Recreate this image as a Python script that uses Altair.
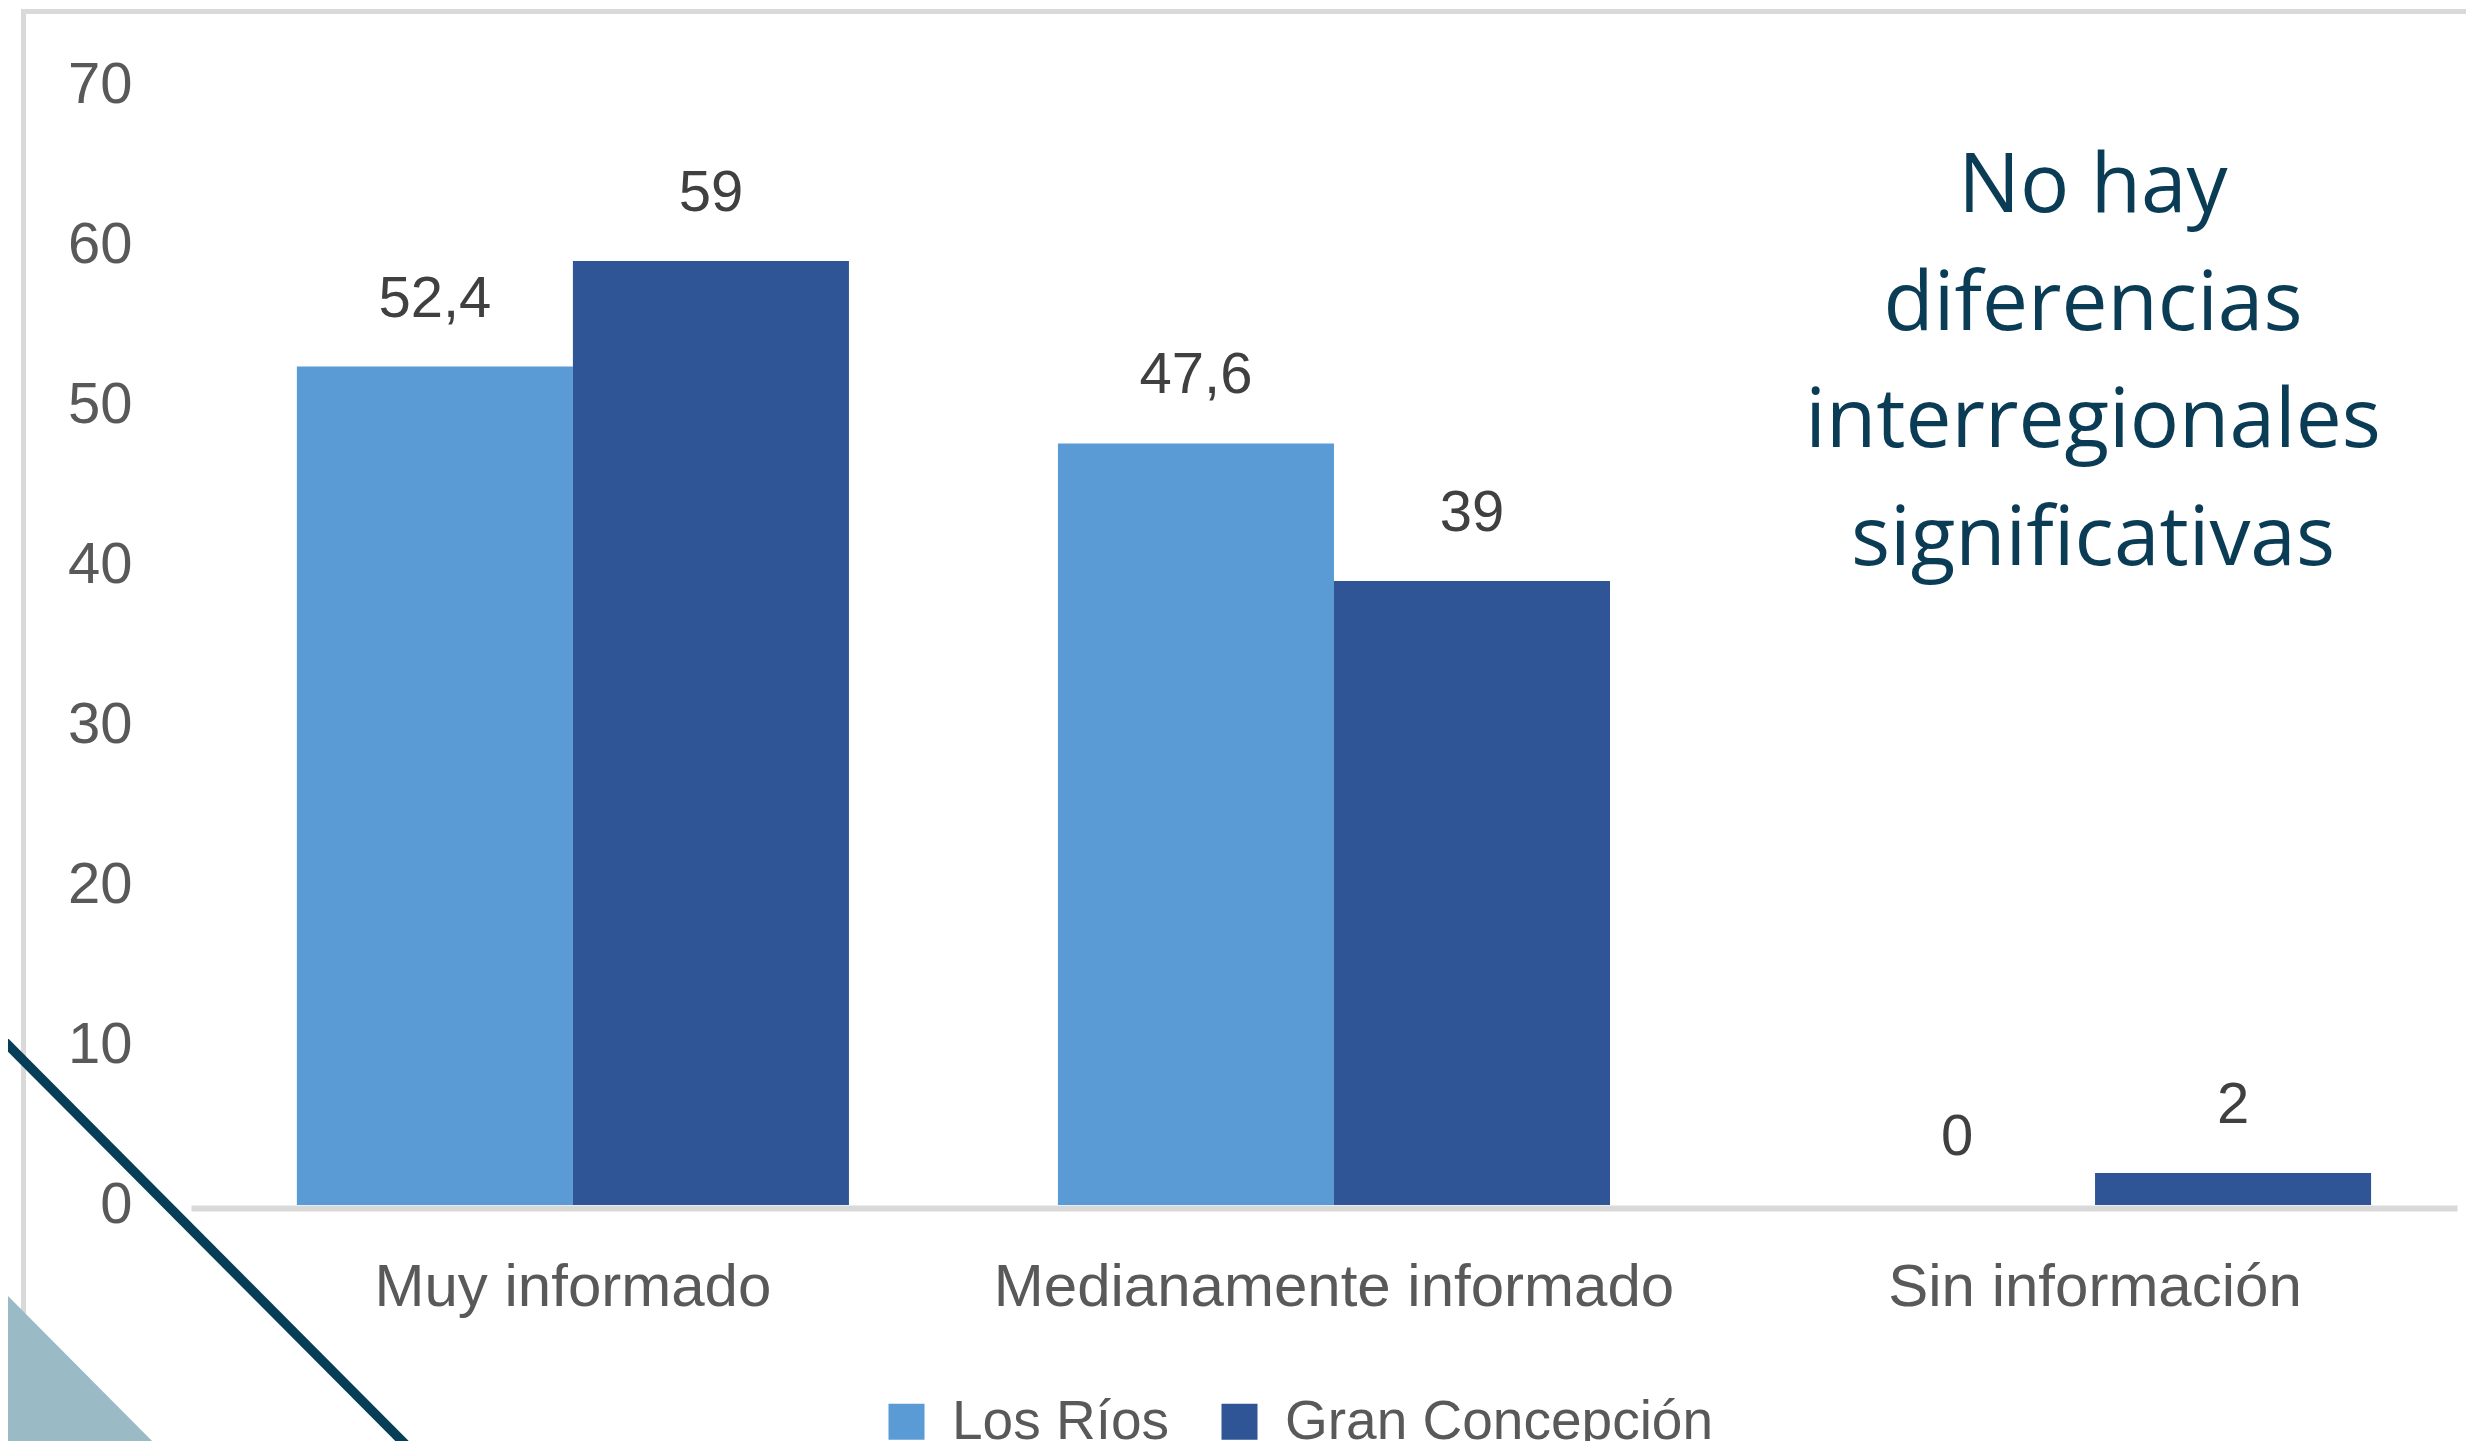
import altair as alt
import pandas as pd

# ---- data ----
categories = ["Muy informado", "Medianamente informado", "Sin información"]
regions = ["Los Ríos", "Gran Concepción"]
los_rios = [52.4, 47.6, 0]
gran_concepcion = [59, 39, 2]
y_ticks = [0, 10, 20, 30, 40, 50, 60, 70]
region_colors = ["#5B9BD5", "#2F5597"]
note_lines = ["No hay", "diferencias", "interregionales", "significativas"]

rows = []
for cat, a, b in zip(categories, los_rios, gran_concepcion):
    for reg, v in zip(regions, (a, b)):
        rows.append({"cat": cat, "region": reg, "value": v,
                     "label": f"{v:g}".replace(".", ",")})
df = pd.DataFrame(rows)

FONT = "Liberation Sans"
one = alt.Data(values=[{"k": 0}])

x_enc = alt.X("cat:N", sort=categories, title=None,
              scale=alt.Scale(paddingInner=0.2746, paddingOuter=0.126, align=0.552),
              axis=alt.Axis(labelAngle=0, domain=True, domainColor="#D9D9D9",
                            domainWidth=6, ticks=False, tickSize=0, offset=3,
                            labelBaseline="alphabetic", labelPadding=97,
                            labelFont=FONT, labelFontSize=60, labelColor="#595959",
                            labelLimit=0, grid=False))
y_enc = alt.Y("value:Q", title=None,
              scale=alt.Scale(domain=[0, 70], nice=False),
              axis=alt.Axis(values=y_ticks, domain=False, ticks=False, tickSize=0,
                            grid=False, labelPadding=59, labelFont=FONT,
                            labelFontSize=58, labelColor="#595959"))
xoff = alt.XOffset("region:N", sort=regions,
                   scale=alt.Scale(paddingInner=0, paddingOuter=0))

bars = alt.Chart(df).mark_bar(opacity=1).encode(
    x=x_enc, y=y_enc, xOffset=xoff,
    color=alt.Color("region:N", sort=regions,
                    scale=alt.Scale(domain=regions, range=region_colors),
                    legend=alt.Legend(orient="none", legendX=688, legendY=1309,
                                      direction="horizontal", title=None,
                                      symbolType="square", symbolSize=1296,
                                      symbolStrokeWidth=0, symbolOpacity=1,
                                      labelFont=FONT, labelFontSize=55,
                                      labelColor="#595959", labelOffset=18,
                                      labelLimit=0, columnPadding=42, padding=0)),
)

labels = alt.Chart(df).mark_text(baseline="alphabetic", dy=-50, font=FONT,
                                 fontSize=58, color="#404040").encode(
    x=alt.X("cat:N", sort=categories), y="value:Q", xOffset=xoff, text="label:N")

frame_top = alt.Chart(one).mark_rule(color="#D9D9D9", strokeWidth=5).encode(
    x=alt.value(-170), x2=alt.value(2400), y=alt.value(-73.5), y2=alt.value(-73.5))
frame_left = alt.Chart(one).mark_rule(color="#D9D9D9", strokeWidth=5).encode(
    x=alt.value(-167.5), x2=alt.value(-167.5), y=alt.value(-76), y2=alt.value(1500))

note = alt.Chart(one).mark_text(text=note_lines, align="center", baseline="alphabetic",
                                lineHeight=117.7, font="Open Sans", fontSize=82,
                                color="#0B3C55").encode(
    x=alt.value(1902), y=alt.value(127))

teal = alt.Chart(one).mark_rule(color="#9ABBC6", strokeWidth=260, strokeCap="butt").encode(
    x=alt.value(-565.1), y=alt.value(1010.9), x2=alt.value(-1.3), y2=alt.value(1578.3))
navy = alt.Chart(one).mark_rule(color="#063D57", strokeWidth=9.5, strokeCap="butt").encode(
    x=alt.value(-221), y=alt.value(921.9), x2=alt.value(259), y2=alt.value(1404.2))

chart = alt.layer(frame_top, frame_left, bars, labels, note, teal, navy).properties(
    width=2266, height=1120,
    autosize=alt.AutoSizeParams(type="none"),
    padding={"left": 183, "top": 77, "right": 9, "bottom": 236},
    background="white",
).configure_view(stroke=None)

chart.save("out.html", embed_options={"renderer": "svg", "actions": False})
